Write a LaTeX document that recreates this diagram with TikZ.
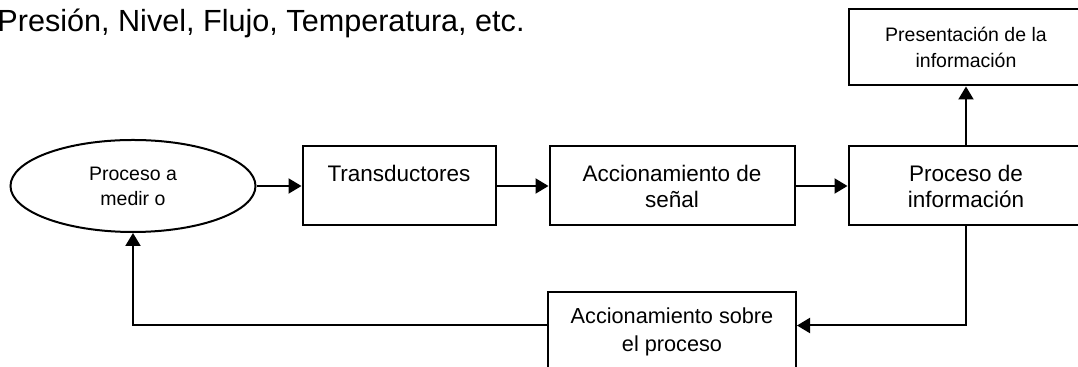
\documentclass[tikz,border=0pt]{standalone}
\usepackage{fontspec}
\setmainfont{Liberation Sans}
\usepackage{tikz}
\usetikzlibrary{arrows.meta,positioning,shapes.geometric}
\tikzset{
  box/.style={draw, line width=1pt, align=center, minimum width=122.5pt, minimum height=39.5pt, inner sep=0pt, font=\fontsize{11.25}{13}\selectfont},
  smallbox/.style={box, font=\fontsize{9.75}{13}\selectfont},
  source/.style={draw, ellipse, line width=1pt, align=center, minimum width=122.5pt, minimum height=46pt, inner sep=0pt, font=\fontsize{9.75}{12.5}\selectfont},
  arrow/.style={-{Triangle[length=6.5pt, width=7.5pt]}, line width=1pt}
}
\begin{document}
\begin{tikzpicture}[x=0.5pt, y=-0.5pt]
  \useasboundingbox (0,0) rectangle (1078,367);
  \node[anchor=base west, inner sep=0pt, font=\fontsize{15.3}{18}\selectfont] (title) at (-3,32) {Presión, Nivel, Flujo, Temperatura, etc.};
  \node[source] (proc) at (133,186) {Proceso a\\medir o};
  \node[box, minimum width=96.5pt, right=22.5pt of proc] (trans) {Transductores\\~};
  \node[box, right=26pt of trans] (acond) {Accionamiento de\\señal};
  \node[box, minimum width=117.5pt, right=26pt of acond] (procinfo) {Proceso de\\información};
  \node[smallbox, minimum width=117.5pt, minimum height=38pt, above=29.5pt of procinfo] (present) {Presentación de la\\información};
  \node[box, minimum width=124pt, minimum height=39pt, font=\fontsize{10.85}{14}\selectfont, below=32.5pt of acond] (accsobre) {Accionamiento sobre\\el proceso};

  \draw[arrow] (proc) -- (trans);
  \draw[arrow] (trans) -- (acond);
  \draw[arrow] (acond) -- (procinfo);
  \draw[arrow] (procinfo) -- (present);
  \draw[arrow] (procinfo.south) |- ([yshift=3pt]accsobre.east);
  \draw[arrow] ([yshift=3pt]accsobre.west) -| (proc.south);
\end{tikzpicture}
\end{document}
